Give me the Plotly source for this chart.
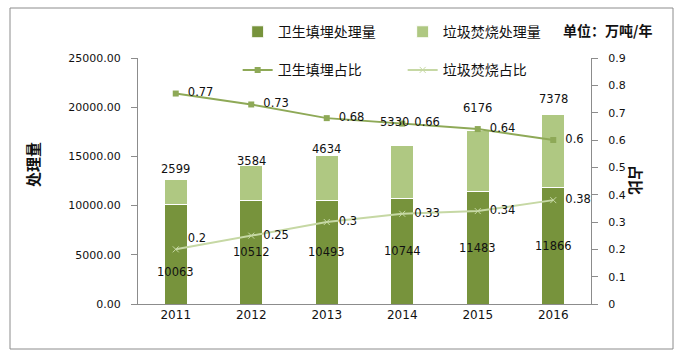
import plotly.graph_objects as go

years = ["2011", "2012", "2013", "2014", "2015", "2016"]
landfill = [10063, 10512, 10493, 10744, 11483, 11866]
incineration = [2599, 3584, 4634, 5330, 6176, 7378]
landfill_ratio = [0.77, 0.73, 0.68, 0.66, 0.64, 0.6]
incin_ratio = [0.2, 0.25, 0.3, 0.33, 0.34, 0.38]

CJK = "Noto Sans CJK SC"
NUM = "DejaVu Sans"
DARK = "#77933C"
LIGHT = "#AFC882"
L1 = "#8EA957"
L2 = "#C6D8A4"
TXT = "#111"
LBL = 11.5

# label nudges (pixels) mimicking the reference's manually placed data labels
bottom_label_shift = [-18, 0, 0, 0, 0, 0]
top_label_shift = [0, -6, -4, 14, 12, 6]
top_label_xshift = [0, 0, 0, -8, 0, 0]

fig = go.Figure()
fig.add_trace(go.Bar(
    x=years, y=landfill, name="卫生填埋处理量",
    marker=dict(color=DARK, line=dict(color="white", width=1)),
    legend="legend", width=0.31,
))
fig.add_trace(go.Bar(
    x=years, y=incineration, name="垃圾焚烧处理量",
    marker=dict(color=LIGHT, line=dict(color="white", width=1)),
    legend="legend", width=0.31,
))
fig.add_trace(go.Scatter(
    x=years, y=landfill_ratio, name="卫生填埋占比", yaxis="y2", mode="lines+markers+text",
    line=dict(color=L1, width=2), marker=dict(symbol="square", size=6, color=L1),
    text=["  " + str(v) for v in landfill_ratio], textposition="middle right",
    textfont=dict(family=NUM, size=LBL, color=TXT), legend="legend2", cliponaxis=False,
))
fig.add_trace(go.Scatter(
    x=years, y=incin_ratio, name="垃圾焚烧占比", yaxis="y2", mode="lines+markers+text",
    line=dict(color=L2, width=2), marker=dict(symbol="x-thin", size=6, color=L2, line=dict(color=L2, width=1)),
    text=["  " + str(v) for v in incin_ratio],
    textposition=["top right", "middle right", "middle right", "middle right", "middle right", "middle right"],
    textfont=dict(family=NUM, size=LBL, color=TXT), legend="legend2", cliponaxis=False,
))

annotations = []
for i, (a, b) in enumerate(zip(landfill, incineration)):
    annotations.append(dict(x=i, y=a / 2, xref="x", yref="y", text=str(a), showarrow=False,
                            yshift=bottom_label_shift[i],
                            font=dict(family=NUM, size=LBL, color=TXT)))
    annotations.append(dict(x=i, y=a + b, xref="x", yref="y", text=str(b), showarrow=False,
                            yanchor="bottom", yshift=1 + top_label_shift[i], xshift=top_label_xshift[i],
                            font=dict(family=NUM, size=LBL, color=TXT)))

annotations += [
    dict(text="<b>处理量</b>", xref="paper", yref="paper", x=-106/453, y=(304-165)/246,
         xanchor="center", yanchor="middle",
         textangle=-90, showarrow=False, font=dict(family=CJK, size=15, color=TXT)),
    dict(text="<b>占比</b>", xref="paper", yref="paper", x=(637-138)/453, y=(304-180)/246,
         xanchor="center", yanchor="middle",
         textangle=90, showarrow=False, font=dict(family=CJK, size=15, color=TXT)),
    dict(text="<b>单位：万吨/年</b>", xref="paper", yref="paper", x=(607-138)/453, y=(304-30)/246,
         xanchor="center", yanchor="middle",
         showarrow=False, font=dict(family=CJK, size=14, color=TXT)),
]

fig.update_layout(
    width=679, height=352,
    margin=dict(l=138, r=88, t=58, b=48),
    paper_bgcolor="white", plot_bgcolor="white",
    barmode="stack", bargap=0.69,
    font=dict(family=NUM, size=12, color=TXT),
    xaxis=dict(type="category", range=[-0.5, len(years) - 0.5], showline=True, linecolor="#8c8c8c",
               linewidth=1, ticks="", showgrid=False,
               tickfont=dict(family=NUM, size=12, color=TXT)),
    yaxis=dict(range=[0, 25000], dtick=5000, tickformat=".2f", showline=True, linecolor="#8c8c8c",
               ticks="outside", ticklen=6, tickcolor="#8c8c8c", showgrid=False, zeroline=False,
               tickfont=dict(family=NUM, size=11, color=TXT), ticklabelstandoff=8),
    yaxis2=dict(range=[0, 0.9], dtick=0.1, overlaying="y", side="right", showline=True,
                linecolor="#8c8c8c", ticks="outside", ticklen=6, tickcolor="#8c8c8c",
                showgrid=False, zeroline=False, tickfont=dict(family=NUM, size=11, color=TXT),
                ticklabelstandoff=8),
    legend=dict(orientation="h", x=0.22, y=1.105, xanchor="left", yanchor="middle",
                font=dict(family=CJK, size=14, color=TXT), entrywidth=120,
                bgcolor="rgba(0,0,0,0)", traceorder="normal"),
    legend2=dict(orientation="h", x=0.22, y=0.95, xanchor="left", yanchor="middle",
                 font=dict(family=CJK, size=14, color=TXT), entrywidth=120,
                 bgcolor="rgba(0,0,0,0)", traceorder="normal"),
    shapes=[dict(type="rect", xref="paper", yref="paper", x0=-128/453, x1=(673-138)/453,
                 y0=-45/246, y1=(304-8)/246, line=dict(color="#8c8c8c", width=1), layer="below")],
    annotations=annotations,
)

fig.write_html("out.html")
